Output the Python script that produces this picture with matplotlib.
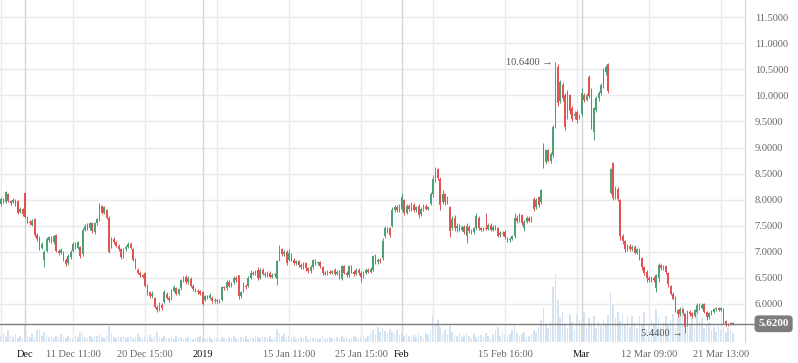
import numpy as np
import matplotlib
matplotlib.use('Agg')
import matplotlib.pyplot as plt
from matplotlib.transforms import blended_transform_factory

# hourly candles, one row of 10 per line
opens = [
    7.92, 8.00, 7.96, 8.10, 7.98, 7.95, 8.00, 7.98, 7.76, 7.82,
    8.13, 7.66, 7.58, 7.52, 7.62, 7.33, 7.28, 7.08, 6.85, 7.02,
    7.22, 7.28, 7.18, 7.32, 7.02, 6.98, 7.00, 6.85, 6.78, 6.90,
    7.02, 7.15, 7.08, 7.10, 6.95, 7.42, 7.52, 7.45, 7.55, 7.38,
    7.55, 7.62, 7.88, 7.75, 7.80, 7.65, 7.10, 7.25, 7.18, 7.12,
    7.05, 6.92, 7.05, 7.10, 7.15, 7.05, 6.85, 6.65, 6.60, 6.55,
    6.60, 6.35, 6.22, 6.15, 6.12, 5.95, 5.90, 5.98, 6.04, 6.20,
    6.12, 6.10, 6.25, 6.30, 6.20, 6.30, 6.45, 6.52, 6.42, 6.48,
    6.35, 6.28, 6.25, 6.24, 6.22, 6.08, 6.15, 6.12, 6.12, 6.05,
    6.08, 6.05, 6.08, 6.32, 6.30, 6.42, 6.35, 6.42, 6.50, 6.55,
    6.15, 6.25, 6.35, 6.35, 6.50, 6.60, 6.58, 6.65, 6.50, 6.65,
    6.58, 6.55, 6.60, 6.52, 6.56, 6.48, 6.85, 7.05, 6.95, 7.00,
    6.85, 6.95, 6.85, 6.78, 6.82, 6.75, 6.70, 6.78, 6.68, 6.63,
    6.70, 6.84, 6.78, 6.80, 6.70, 6.60, 6.58, 6.62, 6.60, 6.66,
    6.58, 6.62, 6.48, 6.72, 6.60, 6.55, 6.72, 6.62, 6.58, 6.65,
    6.60, 6.52, 6.60, 6.65, 6.62, 6.66, 6.92, 6.80, 6.85, 6.88,
    7.30, 7.45, 7.45, 7.50, 7.80, 7.85, 7.80, 7.82, 8.00, 7.75,
    7.88, 7.82, 7.90, 7.80, 7.88, 7.72, 7.82, 7.88, 7.83, 7.92,
    8.10, 8.35, 8.58, 8.40, 7.95, 8.10, 7.95, 7.86, 7.45, 7.65,
    7.45, 7.50, 7.42, 7.48, 7.30, 7.48, 7.40, 7.38, 7.45, 7.65,
    7.45, 7.42, 7.45, 7.44, 7.52, 7.42, 7.48, 7.45, 7.32, 7.36,
    7.38, 7.26, 7.22, 7.25, 7.30, 7.65, 7.60, 7.70, 7.45, 7.58,
    7.65, 7.60, 8.02, 7.85, 8.05, 7.95, 8.80, 8.72, 8.95, 8.75,
    8.85, 9.40, 10.55, 9.90, 10.20, 10.00, 9.60, 10.00, 9.75, 9.60,
    9.68, 9.58, 9.65, 10.00, 9.92, 10.35, 10.00, 9.30, 9.72, 9.95,
    10.05, 10.20, 10.45, 10.60, 8.12, 8.70, 8.05, 8.20, 8.00, 7.30,
    7.20, 7.05, 7.12, 7.05, 7.10, 6.98, 7.05, 6.88, 6.70, 6.62,
    6.50, 6.45, 6.50, 6.30, 6.50, 6.75, 6.68, 6.72, 6.60, 6.35,
    6.20, 6.10, 5.88, 5.80, 5.90, 5.80, 5.60, 5.85, 5.82, 5.76,
    5.85, 5.98, 5.92, 6.00, 5.85, 5.75, 5.82, 5.85, 5.90, 5.92,
    5.88, 5.90, 5.68, 5.62, 5.60, 5.63,
]
closes = [
    8.02, 7.96, 8.14, 7.98, 7.94, 8.00, 7.92, 7.75, 7.82, 7.72,
    7.67, 7.58, 7.55, 7.60, 7.32, 7.25, 7.06, 7.15, 7.00, 7.25,
    7.28, 7.20, 7.30, 7.02, 6.98, 7.04, 6.85, 6.76, 6.92, 7.00,
    7.15, 7.08, 7.18, 6.92, 7.42, 7.50, 7.45, 7.55, 7.40, 7.55,
    7.62, 7.90, 7.75, 7.85, 7.65, 7.00, 7.25, 7.18, 7.12, 7.05,
    6.90, 7.05, 7.10, 7.15, 7.08, 6.85, 6.70, 6.60, 6.55, 6.52,
    6.35, 6.20, 6.15, 6.20, 5.95, 5.88, 5.98, 5.92, 6.22, 6.12,
    6.08, 6.25, 6.32, 6.20, 6.28, 6.45, 6.50, 6.42, 6.50, 6.35,
    6.28, 6.25, 6.22, 6.20, 6.00, 6.15, 6.12, 6.18, 6.05, 6.08,
    6.05, 6.07, 6.32, 6.30, 6.42, 6.35, 6.40, 6.50, 6.45, 6.15,
    6.22, 6.35, 6.32, 6.50, 6.60, 6.58, 6.62, 6.50, 6.65, 6.58,
    6.55, 6.60, 6.52, 6.56, 6.55, 6.82, 7.05, 6.95, 7.00, 6.78,
    6.98, 6.85, 6.78, 6.82, 6.75, 6.70, 6.78, 6.68, 6.63, 6.70,
    6.84, 6.78, 6.80, 6.72, 6.60, 6.58, 6.62, 6.60, 6.63, 6.58,
    6.62, 6.52, 6.72, 6.60, 6.55, 6.72, 6.62, 6.58, 6.65, 6.60,
    6.52, 6.60, 6.65, 6.62, 6.67, 6.92, 6.80, 6.85, 6.82, 7.20,
    7.45, 7.40, 7.32, 7.80, 7.85, 7.80, 7.88, 8.05, 7.75, 7.88,
    7.82, 7.90, 7.80, 7.85, 7.70, 7.82, 7.88, 7.83, 7.85, 8.10,
    8.40, 8.55, 8.42, 7.90, 8.10, 7.95, 8.05, 7.40, 7.62, 7.45,
    7.50, 7.42, 7.48, 7.38, 7.50, 7.40, 7.38, 7.45, 7.68, 7.45,
    7.42, 7.44, 7.44, 7.52, 7.42, 7.48, 7.45, 7.30, 7.36, 7.34,
    7.28, 7.22, 7.25, 7.30, 7.65, 7.60, 7.70, 7.55, 7.58, 7.65,
    7.60, 7.66, 7.82, 8.00, 7.90, 8.18, 8.70, 8.95, 8.75, 8.88,
    9.40, 10.45, 9.85, 10.25, 9.95, 9.40, 10.05, 9.70, 9.55, 9.65,
    9.52, 9.60, 10.05, 9.92, 10.00, 9.98, 9.40, 9.75, 9.95, 10.05,
    10.20, 10.50, 10.55, 10.08, 8.58, 8.03, 8.22, 8.02, 7.30, 7.20,
    7.05, 7.12, 7.05, 7.10, 6.98, 7.05, 6.88, 6.70, 6.60, 6.50,
    6.45, 6.50, 6.45, 6.55, 6.75, 6.68, 6.72, 6.62, 6.38, 6.20,
    6.10, 5.90, 5.80, 5.90, 5.82, 5.55, 5.85, 5.80, 5.76, 5.88,
    5.98, 5.92, 5.98, 5.85, 5.75, 5.82, 5.85, 5.90, 5.92, 5.88,
    5.92, 5.68, 5.62, 5.60, 5.63, 5.62,
]
highs = [
    8.06, 8.04, 8.16, 8.12, 8.00, 8.04, 8.02, 8.00, 7.85, 7.84,
    8.14, 7.68, 7.61, 7.63, 7.64, 7.36, 7.30, 7.18, 7.03, 7.28,
    7.31, 7.31, 7.33, 7.34, 7.05, 7.07, 7.02, 6.88, 6.95, 7.03,
    7.18, 7.18, 7.21, 7.12, 7.45, 7.54, 7.55, 7.58, 7.58, 7.58,
    7.65, 7.93, 7.90, 7.88, 7.83, 7.68, 7.29, 7.28, 7.21, 7.15,
    7.08, 7.08, 7.13, 7.18, 7.18, 7.08, 6.88, 6.68, 6.63, 6.58,
    6.62, 6.38, 6.25, 6.25, 6.14, 5.98, 6.03, 6.01, 6.27, 6.23,
    6.15, 6.28, 6.36, 6.33, 6.31, 6.48, 6.53, 6.55, 6.53, 6.51,
    6.38, 6.31, 6.28, 6.27, 6.24, 6.18, 6.18, 6.21, 6.15, 6.11,
    6.10, 6.10, 6.35, 6.35, 6.46, 6.45, 6.43, 6.54, 6.53, 6.56,
    6.25, 6.43, 6.38, 6.53, 6.65, 6.64, 6.65, 6.70, 6.68, 6.68,
    6.61, 6.63, 6.63, 6.59, 6.59, 6.84, 7.13, 7.08, 7.03, 7.03,
    7.05, 6.98, 6.88, 6.85, 6.85, 6.78, 6.81, 6.81, 6.71, 6.74,
    6.86, 6.87, 6.83, 6.83, 6.73, 6.63, 6.65, 6.65, 6.66, 6.69,
    6.66, 6.65, 6.75, 6.75, 6.63, 6.75, 6.75, 6.65, 6.69, 6.68,
    6.63, 6.63, 6.69, 6.68, 6.70, 6.94, 6.95, 6.88, 6.88, 7.26,
    7.50, 7.48, 7.48, 7.86, 7.90, 7.89, 7.91, 8.13, 8.02, 7.92,
    7.92, 7.95, 7.93, 7.88, 7.91, 7.86, 7.91, 7.91, 7.88, 8.15,
    8.47, 8.62, 8.60, 8.43, 8.18, 8.13, 8.08, 7.88, 7.68, 7.70,
    7.55, 7.53, 7.51, 7.51, 7.55, 7.51, 7.43, 7.48, 7.74, 7.68,
    7.48, 7.47, 7.75, 7.55, 7.55, 7.51, 7.51, 7.48, 7.39, 7.39,
    7.41, 7.29, 7.28, 7.33, 7.74, 7.70, 7.74, 7.73, 7.61, 7.68,
    7.68, 7.69, 8.05, 8.03, 8.08, 8.20, 9.08, 8.98, 8.98, 8.92,
    9.43, 10.64, 10.60, 10.30, 10.25, 10.05, 10.10, 10.03, 9.80, 9.70,
    9.72, 9.64, 10.15, 10.05, 10.04, 10.40, 10.15, 9.78, 9.98, 10.08,
    10.24, 10.53, 10.58, 10.63, 8.60, 8.72, 8.26, 8.24, 8.02, 7.35,
    7.22, 7.15, 7.15, 7.13, 7.13, 7.08, 7.08, 6.90, 6.73, 6.65,
    6.53, 6.53, 6.53, 6.58, 6.78, 6.77, 6.75, 6.75, 6.62, 6.37,
    6.22, 6.15, 5.90, 5.95, 5.93, 5.82, 5.88, 5.88, 5.85, 5.90,
    6.01, 6.01, 6.01, 6.02, 5.87, 5.85, 5.88, 5.93, 5.94, 5.94,
    5.94, 5.92, 5.70, 5.64, 5.65, 5.65,
]
lows = [
    7.88, 7.93, 7.94, 7.95, 7.90, 7.93, 7.88, 7.72, 7.74, 7.69,
    7.64, 7.55, 7.52, 7.50, 7.29, 7.21, 7.03, 7.05, 6.71, 6.99,
    7.19, 7.17, 7.15, 6.99, 6.94, 6.95, 6.82, 6.72, 6.75, 6.87,
    6.99, 7.05, 7.05, 6.89, 6.92, 7.39, 7.42, 7.42, 7.36, 7.35,
    7.52, 7.59, 7.72, 7.72, 7.62, 6.98, 7.07, 7.15, 7.09, 7.02,
    6.86, 6.89, 7.02, 7.07, 7.05, 6.82, 6.67, 6.57, 6.52, 6.49,
    6.32, 6.17, 6.12, 6.12, 5.92, 5.84, 5.87, 5.89, 6.01, 6.09,
    6.04, 6.07, 6.22, 6.17, 6.17, 6.27, 6.42, 6.39, 6.39, 6.32,
    6.25, 6.22, 6.19, 6.17, 5.98, 6.05, 6.09, 6.09, 6.02, 6.02,
    6.02, 6.02, 6.05, 6.27, 6.27, 6.32, 6.32, 6.39, 6.42, 6.10,
    6.12, 6.22, 6.29, 6.32, 6.47, 6.55, 6.55, 6.46, 6.47, 6.55,
    6.52, 6.52, 6.49, 6.49, 6.52, 6.36, 6.82, 6.92, 6.92, 6.75,
    6.82, 6.82, 6.75, 6.75, 6.71, 6.67, 6.67, 6.64, 6.60, 6.60,
    6.67, 6.75, 6.75, 6.69, 6.55, 6.55, 6.55, 6.57, 6.57, 6.55,
    6.55, 6.48, 6.46, 6.57, 6.51, 6.52, 6.59, 6.54, 6.55, 6.56,
    6.43, 6.49, 6.57, 6.59, 6.59, 6.63, 6.77, 6.77, 6.78, 6.85,
    7.26, 7.36, 7.29, 7.47, 7.76, 7.76, 7.77, 7.79, 7.70, 7.72,
    7.78, 7.79, 7.77, 7.77, 7.65, 7.69, 7.79, 7.80, 7.80, 7.90,
    8.06, 8.33, 8.38, 7.80, 7.92, 7.90, 7.92, 7.28, 7.42, 7.40,
    7.38, 7.39, 7.39, 7.35, 7.17, 7.37, 7.35, 7.35, 7.42, 7.42,
    7.39, 7.39, 7.41, 7.41, 7.39, 7.39, 7.42, 7.28, 7.29, 7.31,
    7.25, 7.19, 7.19, 7.22, 7.27, 7.55, 7.57, 7.52, 7.40, 7.55,
    7.57, 7.57, 7.79, 7.82, 7.85, 7.92, 8.60, 8.68, 8.72, 8.70,
    8.82, 9.38, 9.80, 9.85, 9.90, 9.33, 9.55, 9.65, 9.50, 9.55,
    9.48, 9.54, 9.60, 9.88, 9.89, 9.95, 9.35, 9.14, 9.68, 9.90,
    10.00, 10.15, 10.40, 10.05, 8.10, 8.00, 8.02, 7.98, 7.23, 7.15,
    7.00, 7.02, 7.02, 7.02, 6.95, 6.95, 6.85, 6.66, 6.56, 6.42,
    6.42, 6.42, 6.42, 6.23, 6.42, 6.65, 6.65, 6.58, 6.33, 6.17,
    6.08, 5.85, 5.75, 5.76, 5.78, 5.44, 5.58, 5.77, 5.73, 5.74,
    5.82, 5.89, 5.90, 5.83, 5.70, 5.72, 5.79, 5.83, 5.87, 5.86,
    5.86, 5.62, 5.58, 5.58, 5.59, 5.60,
]
volumes = [
    6, 9, 5, 12, 7, 5, 8, 4, 6, 5,
    17, 6, 5, 8, 5, 12, 13, 6, 10, 7,
    5, 7, 4, 6, 5, 8, 5, 4, 6, 5,
    4, 6, 5, 10, 8, 5, 4, 6, 5, 7,
    6, 8, 5, 4, 6, 16, 9, 5, 4, 6,
    5, 7, 4, 5, 6, 4, 5, 8, 5, 4,
    6, 5, 7, 4, 6, 10, 5, 4, 6, 5,
    4, 5, 3, 6, 4, 5, 3, 4, 5, 4,
    3, 4, 5, 6, 4, 3, 4, 5, 3, 4,
    4, 3, 5, 4, 3, 5, 4, 6, 4, 3,
    5, 4, 6, 3, 5, 4, 6, 5, 4, 7,
    5, 4, 6, 3, 5, 13, 9, 6, 8, 5,
    6, 4, 5, 3, 4, 5, 4, 6, 3, 5,
    4, 5, 3, 4, 6, 3, 4, 5, 4, 3,
    5, 4, 6, 4, 5, 3, 4, 6, 5, 4,
    5, 7, 4, 6, 9, 12, 8, 15, 10, 14,
    11, 9, 13, 10, 8, 12, 7, 9, 6, 8,
    6, 5, 7, 5, 8, 6, 4, 9, 7, 12,
    27, 18, 22, 15, 9, 12, 8, 16, 10, 7,
    6, 9, 5, 7, 10, 6, 4, 8, 5, 6,
    7, 5, 9, 6, 4, 8, 12, 15, 6, 9,
    7, 5, 8, 12, 16, 9, 6, 8, 10, 5,
    6, 8, 12, 10, 15, 22, 34, 18, 14, 20,
    55, 69, 42, 25, 30, 18, 14, 28, 20, 12,
    28, 22, 17, 30, 15, 24, 19, 26, 14, 20,
    16, 22, 18, 27, 50, 38, 24, 30, 21, 28,
    18, 25, 15, 26, 20, 14, 26, 18, 30, 12,
    16, 22, 19, 33, 24, 15, 20, 26, 17, 22,
    28, 14, 25, 32, 39, 30, 22, 17, 26, 15,
    30, 20, 24, 14, 18, 20, 12, 15, 10, 16,
    12, 15, 10, 14, 12, 9,
]

price_ticks = [6.0, 6.5, 7.0, 7.5, 8.0, 8.5, 9.0, 9.5, 10.0, 10.5, 11.0, 11.5]
grid_idx = [0, 30, 60, 90, 120, 150, 180, 210, 240, 270, 300]
label_idx = [30, 60, 120, 150, 210, 270, 300]
label_text = ['11 Dec 11:00', '20 Dec 15:00', '15 Jan 11:00', '25 Jan 15:00',
              '15 Feb 16:00', '12 Mar 09:00', '21 Mar 13:00']
month_idx = [10, 84, 167, 242]
month_text = ['Dec', '2019', 'Feb', 'Mar']

plt.rcParams['font.family'] = ['Liberation Serif', 'DejaVu Serif']

GREEN = '#4ca073'
RED = '#e25250'

o = np.array(opens)
c = np.array(closes)
h = np.array(highs)
l = np.array(lows)
x = np.arange(len(c))

fig = plt.figure(figsize=(7.98, 3.63), dpi=100)
fig.patch.set_facecolor('white')
ax = fig.add_axes([0, 21 / 363, 745 / 798, 342 / 363])

# volume underneath, on its own scale
axv = ax.twinx()
axv.bar(x, volumes, width=0.6, color='#d5e2ef', linewidth=0)
axv.set_ylim(0, max(volumes) / 0.2)
axv.axis('off')
ax.set_zorder(axv.get_zorder() + 1)
ax.patch.set_visible(False)

# grid
for p in price_ticks:
    ax.axhline(p, color='#e8eaed', lw=1, zorder=0)
for g in grid_idx:
    ax.axvline(g, color='#e8eaed', lw=1, zorder=0)
for m in month_idx:
    ax.axvline(m, color='#d3d6da', lw=1, zorder=0)

# candles
colors = np.where(c > o, GREEN, np.where(c < o, RED, '#888888'))
ax.vlines(x, l, h, colors=colors, lw=0.7, zorder=2)
body = np.maximum(np.abs(c - o), 0.015)
ax.bar(x, body, bottom=np.minimum(o, c), width=0.6, color=colors, linewidth=0, zorder=3)

ax.set_xlim(-0.42, 310)
ax.set_ylim(5.27, 11.83)

# last price line and tag
trans = blended_transform_factory(ax.transAxes, ax.transData)
ax.plot([0, 1.012], [c[-1], c[-1]], color='#7d7d7d', lw=1, transform=trans, clip_on=False, zorder=4)
ax.text(1.018, c[-1], f'{c[-1]:.4f}', transform=trans, ha='left', va='center',
        color='white', fontsize=8, fontweight='bold',
        bbox=dict(boxstyle='round,pad=0.35', fc='#7d7d7d', ec='none'))

# high / low markers
imax = int(np.argmax(h))
imin = int(np.argmin(l))
ax.text(imax - 1.0, h[imax], f'{h[imax]:.4f} \u2192', ha='right', va='center', color='#555555', fontsize=7.5)
ax.text(imin - 1.0, l[imin], f'{l[imin]:.4f} \u2192', ha='right', va='center', color='#555555', fontsize=7.5)

# axes decoration
ax.yaxis.tick_right()
ax.set_yticks(price_ticks)
ax.set_yticklabels([f'{p:.4f}' for p in price_ticks], color='#666666', fontsize=7.5)
ax.tick_params(axis='y', length=0, pad=7)

ax.set_xticks(label_idx + month_idx)
ax.set_xticklabels(label_text + month_text, fontsize=7.5)
for t in ax.get_xticklabels():
    t.set_color('#111111' if t.get_text() in month_text else '#666666')
ax.tick_params(axis='x', length=0, pad=6)

for s in ['top', 'left', 'bottom']:
    ax.spines[s].set_visible(False)
ax.spines['right'].set_color('#d0d3d7')

plt.savefig('out.png', dpi=100)
